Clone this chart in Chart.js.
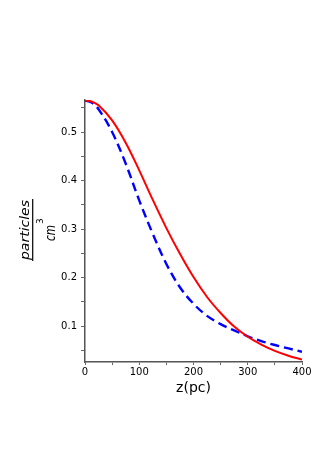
<!DOCTYPE html>
<html>
<head>
<meta charset="utf-8">
<script src="https://cdn.jsdelivr.net/npm/chart.js@4/dist/chart.umd.min.js"></script>
<style>
html,body{margin:0;padding:0;background:#fff;}
#wrap{width:327px;height:463px;}
</style>
</head>
<body>
<div id="wrap"><canvas id="c" width="327" height="463"></canvas></div>
<script>
// ---- data ----
const zPc = [0, 12, 25, 50, 75, 100, 125, 150, 175, 200, 225, 250, 275, 300, 325, 350, 375, 400];
const densityRed = [0.565, 0.563, 0.555, 0.524, 0.478, 0.421, 0.360, 0.302, 0.249, 0.201, 0.160, 0.127, 0.099, 0.078, 0.062, 0.049, 0.039, 0.031];
const densityBlue = [0.565, 0.561, 0.547, 0.500, 0.435, 0.359, 0.290, 0.228, 0.180, 0.146, 0.121, 0.104, 0.091, 0.079, 0.069, 0.061, 0.054, 0.047];
const xTickValues = [0, 50, 100, 150, 200, 250, 300, 350, 400];
const xTickLabels = ['0', '', '100', '', '200', '', '300', '', '400'];
const yTickValues = [0.05, 0.1, 0.15, 0.2, 0.25, 0.3, 0.35, 0.4, 0.45, 0.5, 0.55];
const yTickLabels = ['', '0.1', '', '0.2', '', '0.3', '', '0.4', '', '0.5', ''];
const xTitle = 'z(pc)';
const yTitleNum = 'particles';
const yTitleDen = 'cm';
const yTitleExp = '3';

const toPoints = (ys) => zPc.map((z, i) => ({x: z, y: ys[i]}));

const yTitlePlugin = {
  id: 'yTitle',
  afterDraw(chart) {
    const ctx = chart.ctx;
    ctx.save();
    ctx.translate(32.7, 230);
    ctx.rotate(-Math.PI / 2);
    ctx.fillStyle = '#000';
    ctx.strokeStyle = '#000';
    // numerator
    ctx.font = 'oblique 13px "DejaVu Sans"';
    ctx.textAlign = 'center';
    ctx.textBaseline = 'alphabetic';
    let w = ctx.measureText(yTitleNum).width;
    ctx.save();
    ctx.translate(0, -3.5);
    ctx.scale(60 / w, 1);
    ctx.fillText(yTitleNum, 0, 0);
    ctx.restore();
    // fraction bar
    ctx.lineWidth = 1.2;
    ctx.beginPath();
    ctx.moveTo(-31, 0);
    ctx.lineTo(31, 0);
    ctx.stroke();
    // denominator
    ctx.font = 'oblique 14px "DejaVu Sans"';
    ctx.textAlign = 'left';
    w = ctx.measureText(yTitleDen).width;
    ctx.save();
    ctx.translate(-11, 22);
    ctx.scale(16 / w, 1);
    ctx.fillText(yTitleDen, 0, 0);
    ctx.restore();
    ctx.font = '9px "DejaVu Sans"';
    ctx.fillText(yTitleExp, 6, 10.5);
    ctx.restore();
  }
};

new Chart(document.getElementById('c'), {
  type: 'line',
  data: {
    datasets: [
      {
        data: toPoints(densityRed),
        borderColor: '#ff0000',
        borderWidth: 2,
        pointRadius: 0,
        fill: false,
        tension: 0.35
      },
      {
        data: toPoints(densityBlue),
        borderColor: '#0000ff',
        borderWidth: 2.4,
        borderDash: [9, 5],
        pointRadius: 0,
        fill: false,
        tension: 0.35
      }
    ]
  },
  options: {
    responsive: false,
    animation: false,
    devicePixelRatio: 1,
    layout: {padding: {left: 0, right: 25, top: 100, bottom: 61}},
    plugins: {legend: {display: false}, tooltip: {enabled: false}},
    scales: {
      x: {
        type: 'linear',
        min: 0,
        max: 400,
        afterBuildTicks: (s) => { s.ticks = xTickValues.map(v => ({value: v})); },
        afterFit: (s) => { s.height = 40; },
        ticks: {
          autoSkip: false,
          maxRotation: 0,
          padding: 1,
          color: '#000',
          font: {family: '"DejaVu Sans"', size: 10},
          callback: (v) => { const i = xTickValues.indexOf(v); return i >= 0 ? xTickLabels[i] : ''; }
        },
        grid: {drawOnChartArea: false, drawTicks: true, tickLength: 3, color: '#666', lineWidth: 1},
        border: {display: true, color: '#555', width: 1.5},
        title: {display: true, text: xTitle, color: '#000', font: {family: '"DejaVu Sans"', size: 14}, padding: {top: 0, bottom: 5}}
      },
      y: {
        type: 'linear',
        min: 0.026,
        max: 0.566,
        afterBuildTicks: (s) => { s.ticks = yTickValues.map(v => ({value: v})); },
        afterFit: (s) => { s.width = 85; },
        ticks: {
          autoSkip: false,
          padding: 4,
          color: '#000',
          font: {family: '"DejaVu Sans"', size: 10},
          callback: (v) => {
            const i = yTickValues.findIndex(t => Math.abs(t - v) < 1e-9);
            return i >= 0 ? yTickLabels[i] : '';
          }
        },
        grid: {drawOnChartArea: false, drawTicks: true, tickLength: 4, color: '#666', lineWidth: 1},
        border: {display: true, color: '#555', width: 1.5}
      }
    }
  },
  plugins: [yTitlePlugin]
});
</script>
</body>
</html>
